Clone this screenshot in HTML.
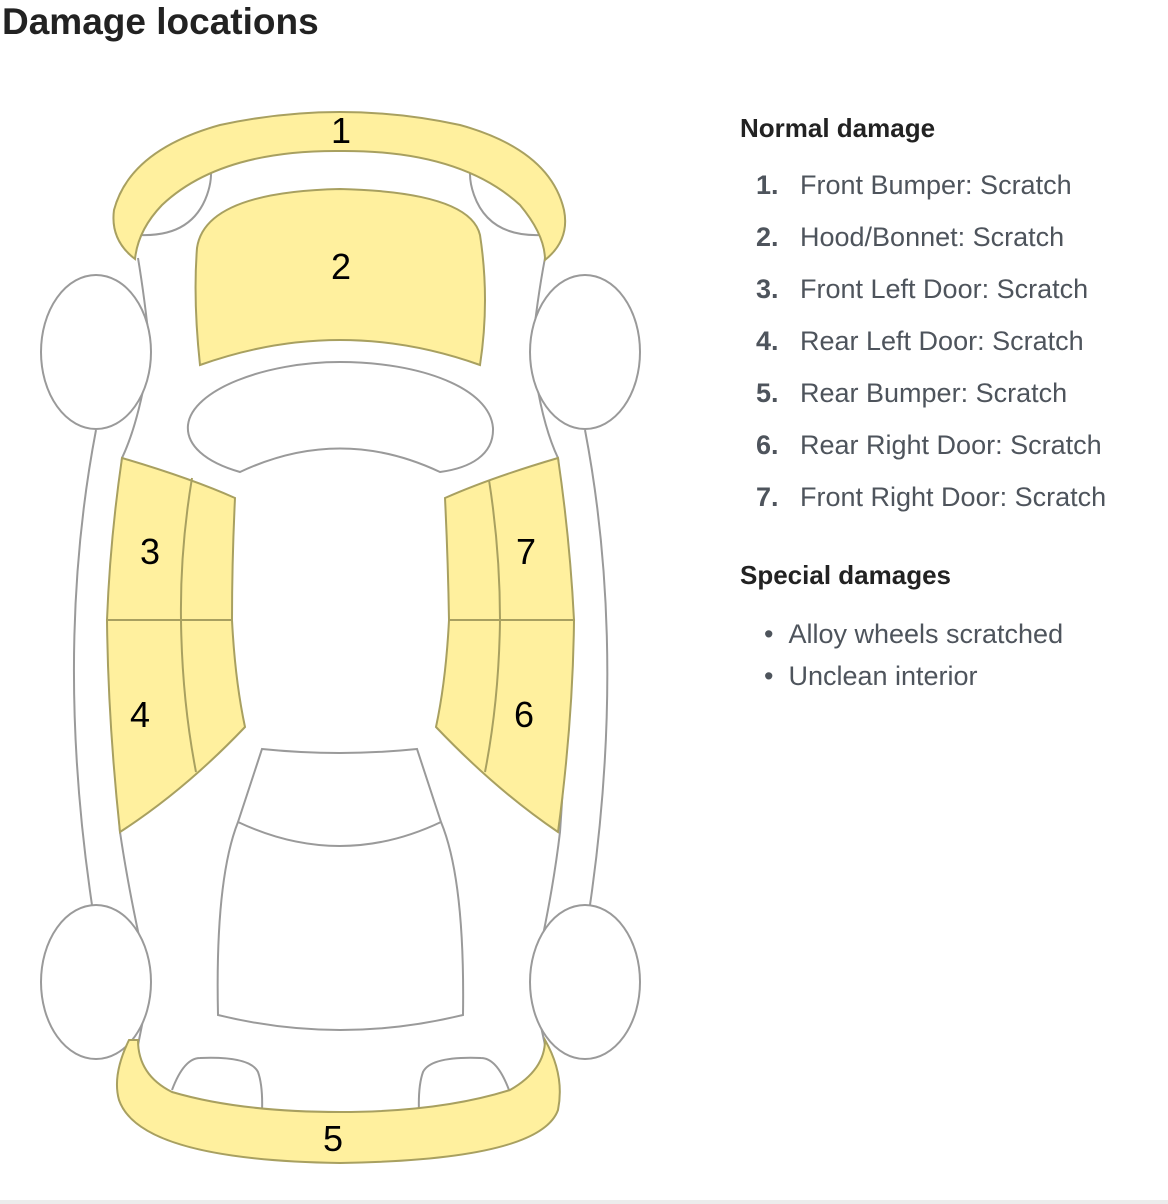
<!DOCTYPE html>
<html><head><meta charset="utf-8"><style>
html,body{margin:0;padding:0;background:#fff;width:1168px;height:1204px;overflow:hidden;position:relative;font-family:"Liberation Sans",Arial,sans-serif}
h1{position:absolute;left:2px;top:0;margin:0;font-size:37px;line-height:44px;font-weight:bold;color:#222}
.h2{position:absolute;left:740px;font-size:26px;font-weight:bold;color:#222;line-height:30px}
.li{position:absolute;font-size:27px;color:#4e545c;line-height:30px;white-space:nowrap}
.n{position:absolute;left:756px;font-weight:bold}
.t{position:absolute;left:800px}
.band{position:absolute;left:0;top:1200px;width:1168px;height:4px;background:#ececec}
svg{position:absolute;left:0;top:0}
</style></head><body>
<h1>Damage locations</h1>
<svg width="1168" height="1204" viewBox="0 0 1168 1204">
<g fill="#fff" stroke="#9a9a9a" stroke-width="2">
<path d="M96,430 Q54,650 92,905" fill="none"/>
<path d="M585,430 Q627,650 590,905" fill="none"/>
<path stroke="none" d="M138,258 Q145,300 150,350 Q140,420 122,458 Q105,620 120,832 Q130,900 150,985 L138,1045 L545,1045 L532,985 Q552,900 560,832 Q575,620 558,458 Q540,420 532,350 Q537,300 545,258 Z"/>
<path fill="none" d="M138,258 Q145,300 150,350 Q140,420 122,458 Q105,620 120,832 Q130,900 150,985 L138,1045"/>
<path fill="none" d="M545,258 Q537,300 532,350 Q540,420 558,458 Q575,620 560,832 Q552,900 532,985 L545,1045"/>
<ellipse cx="96" cy="352" rx="55" ry="77"/>
<ellipse cx="585" cy="352" rx="55" ry="77"/>
<ellipse cx="96" cy="982" rx="55" ry="77"/>
<ellipse cx="585" cy="982" rx="55" ry="77"/>
<path d="M140,235 Q192,237 207,195 Q213,178 210,165" fill="none"/>
<path d="M541,235 Q489,237 474,195 Q468,178 471,165" fill="none"/>
<path d="M240,472 C205,462 186,445 188,425 C192,390 265,362 340,362 C420,362 490,388 493,428 C494,455 470,468 440,472 Q340,425 240,472 Z"/>
<path d="M262,749 Q340,757 417,749 L441,822 Q465,880 463,1015 Q340,1045 218,1015 Q215,880 238,822 Z"/>
<path d="M238,822 Q340,870 441,822" fill="none"/>
<path d="M172,1090 Q184,1058 200,1058 Q250,1056 258,1072 Q263,1086 262,1112" fill="none"/>
<path d="M509,1090 Q497,1058 481,1058 Q431,1056 423,1072 Q418,1086 419,1112" fill="none"/>
</g>
<g fill="#fff09e" stroke="#a8a060" stroke-width="2">
<path d="M135,259 Q110,240 114,210 Q130,150 220,125 Q280,112 340,112 Q400,112 460,125 Q550,150 564,210 Q570,240 545,260 Q545,235 520,205 Q460,150 340,151 Q220,150 162,205 Q138,230 135,259 Z"/>
<path d="M200,365 Q193,300 197,248 Q205,192 340,189 Q470,192 480,235 Q490,300 480,365 Q340,315 200,365 Z"/>
<path d="M122,458 Q190,478 235,498 Q232,560 232,620 L107,620 Q110,540 122,458 Z"/>
<path d="M107,620 L232,620 Q235,680 245,727 Q185,790 120,832 Q108,720 107,620 Z"/>
<path d="M558,458 Q490,478 445,498 Q448,560 449,620 L574,620 Q570,540 558,458 Z"/>
<path d="M574,620 L449,620 Q446,680 436,727 Q496,790 558,832 Q573,720 574,620 Z"/>
<path d="M129,1040 Q112,1075 119,1100 Q140,1160 340,1163 Q540,1160 558,1110 Q565,1075 545,1040 Q545,1070 510,1090 Q440,1112 340,1112 Q240,1112 172,1092 Q138,1075 138,1040 Z"/>
<path d="M192,478 Q180,550 181,620 Q182,700 196,772" fill="none"/>
<path d="M489,480 Q500,550 500,620 Q499,700 485,772" fill="none"/>
</g>
<g font-family="Liberation Sans, sans-serif" font-size="36" fill="#000" text-anchor="middle">
<text x="341" y="143">1</text>
<text x="341" y="279">2</text>
<text x="150" y="564">3</text>
<text x="526" y="564">7</text>
<text x="140" y="727">4</text>
<text x="524" y="727">6</text>
<text x="333" y="1151">5</text>
</g>
</svg>
<div class="h2" style="top:113px">Normal damage</div>
<div class="li" style="top:170px;left:0;width:1168px"><span class="n">1.</span><span class="t">Front Bumper: Scratch</span></div>
<div class="li" style="top:222px;left:0;width:1168px"><span class="n">2.</span><span class="t">Hood/Bonnet: Scratch</span></div>
<div class="li" style="top:274px;left:0;width:1168px"><span class="n">3.</span><span class="t">Front Left Door: Scratch</span></div>
<div class="li" style="top:326px;left:0;width:1168px"><span class="n">4.</span><span class="t">Rear Left Door: Scratch</span></div>
<div class="li" style="top:378px;left:0;width:1168px"><span class="n">5.</span><span class="t">Rear Bumper: Scratch</span></div>
<div class="li" style="top:430px;left:0;width:1168px"><span class="n">6.</span><span class="t">Rear Right Door: Scratch</span></div>
<div class="li" style="top:482px;left:0;width:1168px"><span class="n">7.</span><span class="t">Front Right Door: Scratch</span></div>
<div class="h2" style="top:560px">Special damages</div>
<div class="li" style="top:619px;left:764px">•&nbsp;&nbsp;Alloy wheels scratched</div>
<div class="li" style="top:661px;left:764px">•&nbsp;&nbsp;Unclean interior</div>
<div class="band"></div>
</body></html>
